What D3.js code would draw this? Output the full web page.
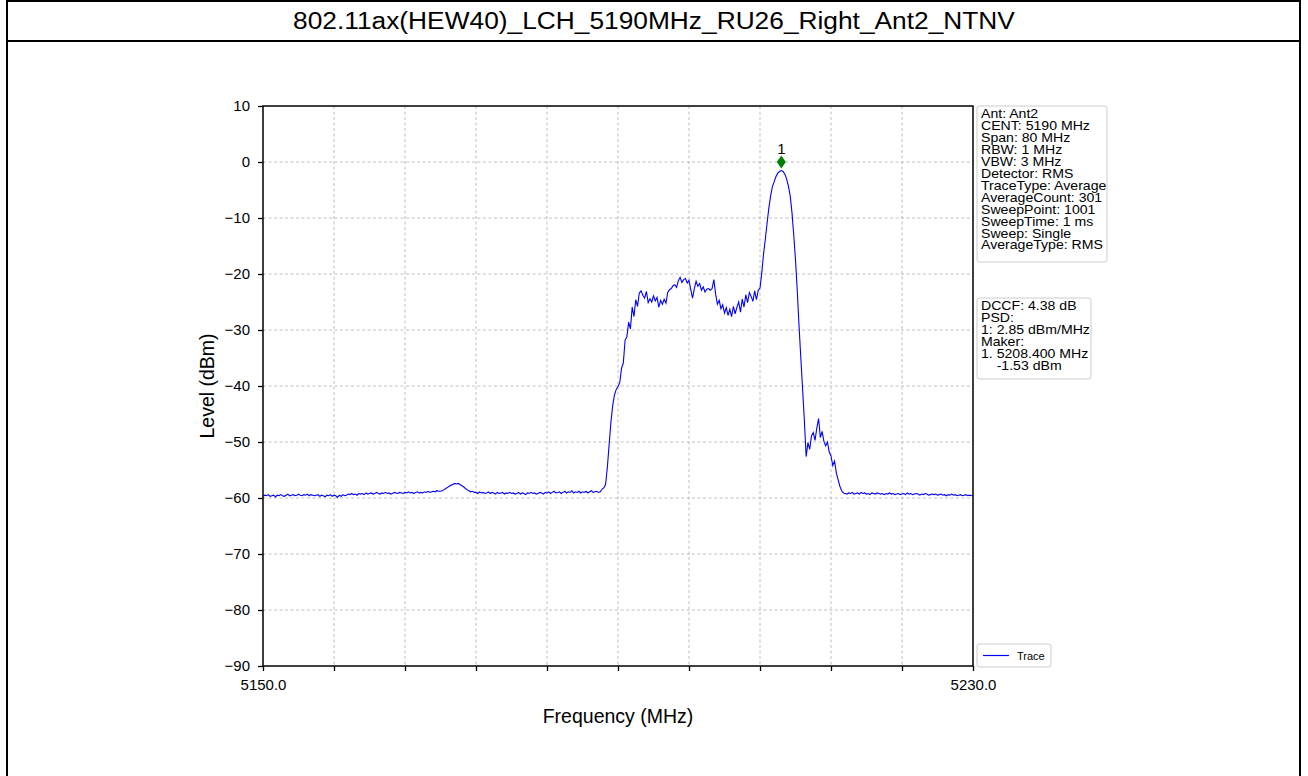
<!DOCTYPE html>
<html>
<head>
<meta charset="utf-8">
<script src="https://cdn.jsdelivr.net/npm/d3@7"></script>
<style>
  html, body { margin: 0; padding: 0; background: #fff; }
  svg { display: block; font-family: "Liberation Sans", Arial, sans-serif; }
</style>
</head>
<body>
<svg id="chart" width="1308" height="776"></svg>
<script>
const titleText = "802.11ax(HEW40)_LCH_5190MHz_RU26_Right_Ant2_NTNV";
const sweepStart = 5150, sweepStep = 0.2;
const xDomain = [5150, 5230];
const yDomain = [-90, 10];
const yTicks = [10, 0, -10, -20, -30, -40, -50, -60, -70, -80, -90];
const xTicks = [5150, 5158, 5166, 5174, 5182, 5190, 5198, 5206, 5214, 5222, 5230];
const xTickLabels = {5150: "5150.0", 5230: "5230.0"};
const infoLines = ["Ant: Ant2", "CENT: 5190 MHz", "Span: 80 MHz", "RBW: 1 MHz", "VBW: 3 MHz",
  "Detector: RMS", "TraceType: Average", "AverageCount: 301", "SweepPoint: 1001",
  "SweepTime: 1 ms", "Sweep: Single", "AverageType: RMS"];
const resultLines = ["DCCF: 4.38 dB", "PSD:", "1: 2.85 dBm/MHz", "Maker:", "1. 5208.400 MHz", "    -1.53 dBm"];
const markerFreq = 5208.4, markerLevel = -1.53;
const traceLevels = [
-59.7,-59.5,-59.6,-59.4,-59.7,-59.6,-59.5,-59.8,-59.5,-59.6,
-59.4,-59.6,-59.7,-59.5,-59.3,-59.6,-59.5,-59.4,-59.6,-59.5,
-59.3,-59.5,-59.6,-59.4,-59.5,-59.3,-59.6,-59.4,-59.5,-59.6,
-59.5,-59.4,-59.7,-59.5,-59.6,-59.8,-59.5,-59.6,-59.4,-59.7,
-59.5,-59.6,-59.9,-59.5,-59.7,-59.4,-59.6,-59.5,-59.3,-59.4,
-59.2,-59.4,-59.3,-59.5,-59.2,-59.3,-59.2,-59.4,-59.1,-59.3,
-59.2,-59.1,-59.3,-59.2,-59.0,-59.2,-59.3,-59.1,-59.2,-59.0,
-59.2,-59.1,-59.3,-59.2,-59.0,-59.1,-59.2,-59.0,-59.1,-59.2,
-59.0,-59.1,-58.9,-59.1,-59.0,-59.2,-59.0,-58.9,-59.1,-59.0,
-59.1,-58.9,-59.0,-58.8,-59.0,-58.9,-58.8,-58.9,-58.7,-58.8,
-58.8,-58.7,-58.5,-58.3,-58.1,-57.9,-57.7,-57.6,-57.4,-57.5,
-57.4,-57.6,-57.8,-58.0,-58.3,-58.5,-58.7,-58.9,-58.8,-59.0,
-59.0,-59.2,-58.9,-59.1,-59.0,-59.2,-59.1,-58.9,-59.2,-59.0,
-59.1,-59.3,-59.0,-59.2,-59.1,-59.0,-59.3,-59.1,-59.2,-59.0,
-59.2,-59.1,-59.3,-59.2,-59.0,-59.3,-59.1,-59.2,-59.4,-59.1,
-59.2,-59.0,-59.2,-59.1,-59.3,-59.2,-59.0,-59.1,-59.3,-59.0,
-59.1,-58.9,-59.2,-59.0,-58.8,-59.1,-59.0,-58.9,-59.2,-59.0,
-58.8,-59.1,-58.9,-59.0,-58.7,-59.1,-58.9,-59.0,-58.8,-59.1,
-58.9,-59.0,-58.8,-59.1,-58.9,-58.7,-59.0,-58.9,-58.8,-59.0,
-58.9,-58.4,-58.2,-57.6,-54.5,-50.5,-46.5,-43.5,-41.6,-40.6,
-40.1,-39.4,-36.8,-35.9,-31.8,-31.2,-28.6,-29.8,-25.9,-27.6,
-24.6,-25.8,-23.4,-23.0,-23.8,-24.3,-23.1,-25.1,-24.4,-25.0,
-23.9,-24.8,-24.2,-25.9,-24.7,-25.4,-24.5,-25.2,-23.3,-22.8,
-22.6,-22.1,-21.9,-22.4,-21.2,-20.6,-21.5,-21.0,-20.8,-21.6,
-21.1,-22.8,-24.3,-22.6,-21.3,-22.2,-21.7,-22.9,-22.3,-23.2,
-22.7,-22.6,-22.9,-22.6,-21.0,-23.6,-25.4,-24.7,-26.2,-25.5,
-27.0,-26.0,-27.4,-26.3,-27.6,-25.8,-27.1,-25.9,-25.0,-26.8,
-24.5,-25.9,-23.7,-25.1,-23.3,-24.0,-24.9,-23.0,-24.6,-22.9,
-22.5,-19.8,-16.4,-13.8,-10.9,-8.2,-6.0,-4.4,-3.5,-2.6,
-2.0,-1.7,-1.53,-1.7,-2.2,-3.0,-4.3,-6.0,-9.0,-13.0,
-17.5,-23.0,-29.3,-35.0,-40.6,-46.2,-52.6,-50.1,-51.3,-48.9,
-48.3,-49.7,-47.5,-45.8,-49.2,-48.1,-49.9,-50.7,-50.0,-51.8,
-52.5,-54.2,-53.4,-55.5,-56.7,-57.9,-58.7,-59.1,
-59.2,-59.3,-59.1,-59.2,-59.0,-59.3,-59.2,-59.1,-59.3,-59.0,
-59.2,-59.1,-59.3,-59.2,-59.4,-59.1,-59.2,-59.3,-59.1,-59.2,
-59.3,-59.2,-59.4,-59.2,-59.3,-59.1,-59.3,-59.2,-59.4,-59.3,
-59.2,-59.4,-59.3,-59.2,-59.4,-59.1,-59.3,-59.2,-59.4,-59.3,
-59.2,-59.3,-59.5,-59.3,-59.4,-59.2,-59.3,-59.5,-59.4,-59.3,
-59.4,-59.3,-59.5,-59.4,-59.3,-59.5,-59.4,-59.6,-59.4,-59.5,
-59.3,-59.5,-59.4,-59.6,-59.5,-59.4,-59.6,-59.5,-59.4,-59.6,
-59.5,-59.6,-59.5
];

const svg = d3.select("#chart");
const SX = 1.12; // horizontal glyph stretch seen in the reference

// outer frame and title
svg.append("rect").attr("x", 7).attr("y", 1).attr("width", 1293).attr("height", 800)
  .attr("fill", "none").attr("stroke", "#000").attr("stroke-width", 2);
svg.append("line").attr("x1", 7).attr("x2", 1300).attr("y1", 41).attr("y2", 41)
  .attr("stroke", "#000").attr("stroke-width", 2);
svg.append("text").attr("transform", `translate(654,29) scale(${SX},1)`).attr("text-anchor", "middle")
  .attr("font-size", 23.5).attr("fill", "#000").text(titleText);

const m = {left: 263, right: 973, top: 106, bottom: 666};
const x = d3.scaleLinear().domain(xDomain).range([m.left, m.right]);
const y = d3.scaleLinear().domain(yDomain).range([m.bottom, m.top]);

// grid
const grid = svg.append("g");
grid.selectAll("line.h").data(yTicks.slice(1, -1)).join("line")
  .attr("x1", m.left).attr("x2", m.right).attr("y1", d => y(d)).attr("y2", d => y(d))
  .attr("stroke", "#b0b0b0").attr("stroke-width", 0.8).attr("stroke-dasharray", "3,2.5");
grid.selectAll("line.v").data(xTicks.slice(1, -1)).join("line")
  .attr("y1", m.top).attr("y2", m.bottom).attr("x1", d => x(d)).attr("x2", d => x(d))
  .attr("stroke", "#b0b0b0").attr("stroke-width", 0.8).attr("stroke-dasharray", "3,2.5");

// trace
const pts = traceLevels.map((v, i) => [sweepStart + i * sweepStep, v]);
svg.append("path").datum(pts)
  .attr("fill", "none").attr("stroke", "#0000ff").attr("stroke-width", 1.1)
  .attr("d", d3.line().x(d => x(d[0])).y(d => y(d[1])));

// axes
const yAxis = svg.append("g").attr("transform", `translate(${m.left},0)`)
  .call(d3.axisLeft(y).tickValues(yTicks).tickSize(5).tickPadding(8).tickFormat(d => d < 0 ? "\u2212" + Math.abs(d) : d));
const xAxis = svg.append("g").attr("transform", `translate(0,${m.bottom})`)
  .call(d3.axisBottom(x).tickValues(xTicks).tickSize(5).tickPadding(8).tickFormat(d => xTickLabels[d] || ""));
[yAxis, xAxis].forEach(a => {
  a.select(".domain").remove();
  a.selectAll(".tick line").attr("stroke", "#000").attr("stroke-width", 1.3);
  a.selectAll(".tick text").attr("font-size", 15).attr("fill", "#000")
    .attr("font-family", "'Liberation Sans', Arial, sans-serif");
});
svg.append("rect").attr("x", m.left).attr("y", m.top)
  .attr("width", m.right - m.left).attr("height", m.bottom - m.top)
  .attr("fill", "none").attr("stroke", "#000").attr("stroke-width", 1.5);

// axis titles
svg.append("text").attr("x", 618).attr("y", 723).attr("text-anchor", "middle")
  .attr("font-size", 19.5).text("Frequency (MHz)");
svg.append("text").attr("transform", `translate(214,${(m.top + m.bottom) / 2}) rotate(-90)`)
  .attr("text-anchor", "middle").attr("font-size", 19.5).text("Level (dBm)");

// marker
const mx = x(markerFreq), my = y(markerLevel + 1.53);
svg.append("path").attr("d", `M${mx},${my - 6.5}L${mx + 4.5},${my}L${mx},${my + 6.5}L${mx - 4.5},${my}Z`)
  .attr("fill", "#008000");
svg.append("text").attr("x", mx).attr("y", my - 8).attr("text-anchor", "middle")
  .attr("font-size", 15).text("1");

// info boxes
function textBox(lines, bx, by, bw, bh, fs, lh) {
  const g = svg.append("g");
  g.append("rect").attr("x", bx).attr("y", by).attr("width", bw).attr("height", bh)
    .attr("rx", 2.5).attr("fill", "#fff").attr("stroke", "#cccccc").attr("stroke-width", 1);
  g.selectAll("text").data(lines).join("text")
    .attr("transform", (d, i) => `translate(${bx + 4},${by + 12 + i * lh}) scale(${SX},1)`)
    .attr("font-size", fs).attr("fill", "#000").attr("xml:space", "preserve")
    .style("white-space", "pre").text(d => d);
}
textBox(infoLines, 977, 106, 130, 156, 12.6, 11.95);
textBox(resultLines, 977, 298, 114, 81, 12.6, 11.95);

// legend
const lg = svg.append("g");
lg.append("rect").attr("x", 977).attr("y", 644).attr("width", 74).attr("height", 23)
  .attr("rx", 2.5).attr("fill", "#fff").attr("stroke", "#cccccc");
lg.append("line").attr("x1", 983).attr("x2", 1009).attr("y1", 655.5).attr("y2", 655.5)
  .attr("stroke", "#0000ff").attr("stroke-width", 1.2);
lg.append("text").attr("x", 1017).attr("y", 659.5).attr("font-size", 11).text("Trace");
</script>
</body>
</html>
